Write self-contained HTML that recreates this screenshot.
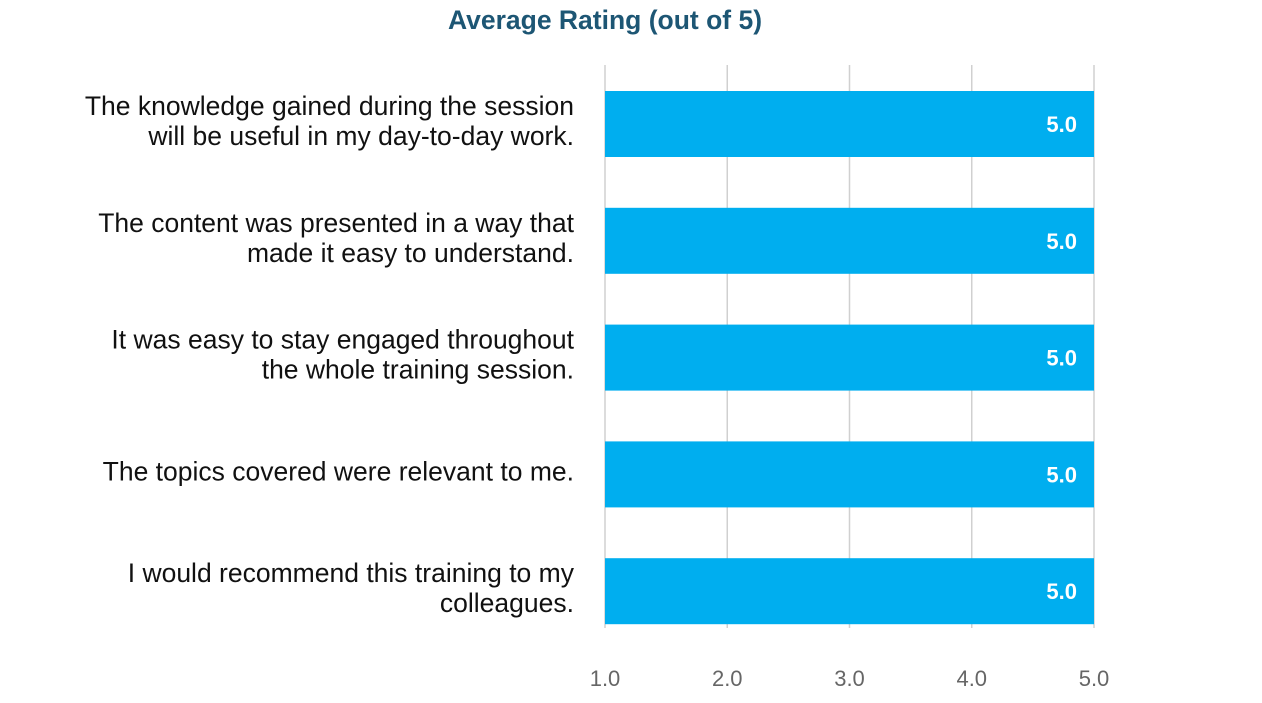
<!DOCTYPE html>
<html><head><meta charset="utf-8"><style>
body{margin:0;background:#fff;width:1262px;height:698px;overflow:hidden;font-family:"Liberation Sans",Arial,sans-serif}
</style></head><body>
<svg id="chart" width="1262" height="698" xmlns="http://www.w3.org/2000/svg">
<text x="605" y="29" text-anchor="middle" font-size="26.5" font-weight="bold" fill="#1d5674">Average Rating (out of 5)</text>
<g id="grid"></g><g id="bars"></g><g id="labels"></g><g id="ticks"></g>
</svg>
<script>
const categories=[["The knowledge gained during the session","will be useful in my day-to-day work."],["The content was presented in a way that","made it easy to understand."],["It was easy to stay engaged throughout","the whole training session."],["The topics covered were relevant to me."],["I would recommend this training to my","colleagues."]];
const values=[5.0,5.0,5.0,5.0,5.0];
const tickValues=[1,2,3,4,5];
const tickLabels=["1.0","2.0","3.0","4.0","5.0"];
const NS="http://www.w3.org/2000/svg";
const x=v=>605+(v-1)*(1094-605)/4;
const yTop=i=>91+i*116.8;
const bh=66;
function mk(t,a,p){const e=document.createElementNS(NS,t);for(const k in a)e.setAttribute(k,a[k]);document.getElementById(p).appendChild(e);return e;}
tickValues.forEach((t,i)=>{
 const g=mk('line',{x1:x(t),x2:x(t),y1:65,y2:628,stroke:'#d0d0d0','stroke-width':1.5},'grid');
 
 
 const l=mk('text',{x:x(t),y:686,'text-anchor':'middle','font-size':22,fill:'#666'},'ticks');
 l.textContent=tickLabels[i];
 
 
});
values.forEach((v,i)=>{
 const r=mk('rect',{x:x(1),y:yTop(i),width:x(v)-x(1),height:bh,fill:'#00aeef'},'bars');
 
 
 const t=mk('text',{x:x(v)-17,y:yTop(i)+bh/2+8,'text-anchor':'end','font-size':22,'font-weight':'bold',fill:'#fff'},'bars');
 t.textContent=v.toFixed(1);
 
 
 const lines=categories[i];
 const cy=yTop(i)+bh/2;
 lines.forEach((s,j)=>{
  const yy=cy+6+(j-(lines.length-1)/2)*30;
  const c=mk('text',{x:574,y:yy,'text-anchor':'end','font-size':26.5,fill:'#111'},'labels');
  c.textContent=s;
  
  
 });
});
</script>
</body></html>
